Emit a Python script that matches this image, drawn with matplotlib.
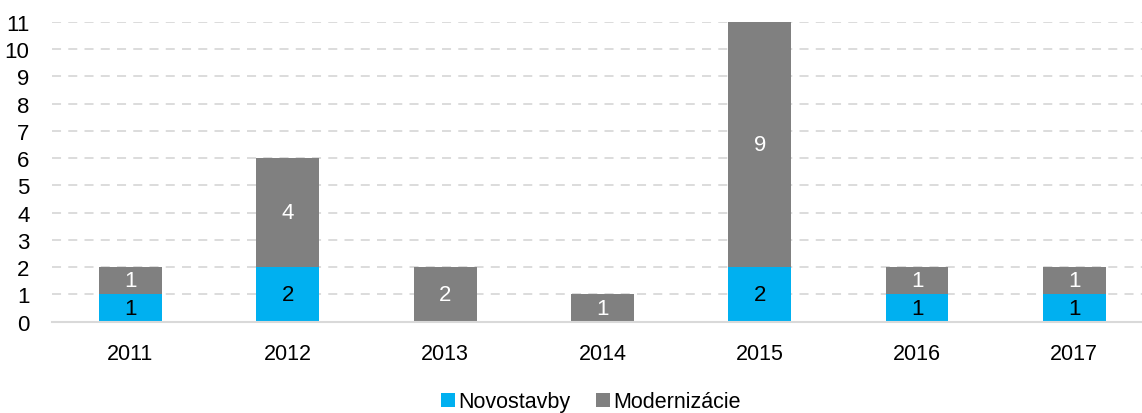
import matplotlib
matplotlib.use('Agg')
import matplotlib.pyplot as plt
import numpy as np

years = ['2011', '2012', '2013', '2014', '2015', '2016', '2017']
novostavby = [1, 2, 0, 0, 2, 1, 1]
modernizacie = [1, 4, 2, 1, 9, 1, 1]

plt.rcParams['font.family'] = ['Liberation Sans Narrow', 'Liberation Sans', 'DejaVu Sans']

fig = plt.figure(figsize=(11.42, 4.14), dpi=100)
ax = fig.add_axes([51.8 / 1142, 91.3 / 414, (1153 - 51.8) / 1142, (322.7 - 22.7) / 414])

x = np.arange(len(years))
w = 0.4
b1 = ax.bar(x, novostavby, w, color='#00B0F0', label='Novostavby', zorder=2)
b2 = ax.bar(x, modernizacie, w, bottom=novostavby, color='#808080', label='Modernizácie', zorder=2)

for i in range(len(years)):
    if novostavby[i] > 0:
        ax.text(x[i], novostavby[i] / 2, str(novostavby[i]), ha='center', va='center',
                color='black', fontsize=16, zorder=3)
    if modernizacie[i] > 0:
        ax.text(x[i], novostavby[i] + modernizacie[i] / 2, str(modernizacie[i]), ha='center',
                va='center', color='white', fontsize=16, zorder=3)

ax.set_xlim(-0.5, len(years) - 0.5)
ax.set_ylim(0, 11)
ax.set_yticks(range(0, 12))
ax.set_xticks(x)
ax.set_xticklabels(years)
ax.tick_params(axis='both', length=0, labelsize=16)
ax.tick_params(axis='x', labelsize=15.5, pad=15)
ax.tick_params(axis='y', pad=16)

ax.yaxis.grid(True, color='#D9D9D9', linestyle=(0, (5, 4)), linewidth=1.3, zorder=0)
ax.set_axisbelow(True)
for s in ['top', 'right', 'left']:
    ax.spines[s].set_visible(False)
ax.spines['bottom'].set_color('#D9D9D9')
ax.spines['bottom'].set_linewidth(1.5)

fig.legend(handles=[b1, b2], loc='center', bbox_to_anchor=(591 / 1142, 1 - 403 / 414),
           ncol=2, frameon=False, fontsize=15.5, handlelength=0.65, handleheight=0.65,
           handletextpad=0.15, columnspacing=1.2)

plt.savefig('out.png', dpi=100)
